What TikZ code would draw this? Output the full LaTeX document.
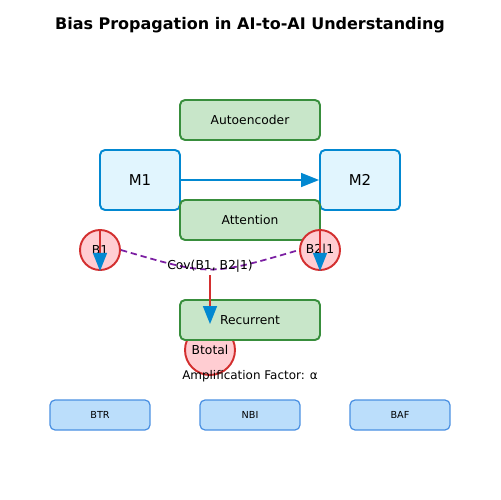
\documentclass[tikz,border=0pt]{standalone}
\usepackage{fontspec}
\setmainfont{DejaVu Sans}
\usetikzlibrary{arrows.meta}
\definecolor{boxgreen}{HTML}{C8E6C9}
\definecolor{linegreen}{HTML}{388E3C}
\definecolor{boxblue}{HTML}{E1F5FE}
\definecolor{lineblue}{HTML}{0288D1}
\definecolor{boxred}{HTML}{FFCDD2}
\definecolor{linered}{HTML}{D32F2F}
\definecolor{linepurple}{HTML}{7B1FA2}
\definecolor{metricfill}{HTML}{BBDEFB}
\definecolor{metricline}{HTML}{4A90E2}
\begin{document}
\begin{tikzpicture}[x=0.02cm,y=-0.02cm,font=\fontsize{7}{8}\selectfont,
    layer/.style={draw=linegreen,fill=boxgreen,line width=1.1pt,rounded corners=0.1cm,
      minimum width=2.8cm,minimum height=0.8cm,inner sep=0pt},
    model/.style={draw=lineblue,fill=boxblue,line width=1.1pt,rounded corners=0.1cm,
      minimum width=1.6cm,minimum height=1.2cm,inner sep=0pt,font=\fontsize{8.5}{10}\selectfont},
    bias/.style={circle,draw=linered,fill=boxred,line width=1.1pt,minimum size=0.8cm,inner sep=0pt},
    metric/.style={draw=metricline,fill=metricfill,line width=0.7pt,rounded corners=0.1cm,
      minimum width=2cm,minimum height=0.6cm,inner sep=0pt,font=\fontsize{5.5}{6}\selectfont},
    flow/.style={linered,line width=0.85pt,-{Triangle[length=0.36cm,width=0.28cm,color=lineblue]}}]
  \useasboundingbox (0,0) rectangle (500,500);
  \node[font=\bfseries\fontsize{9.1}{11}\selectfont] (title) at (250,25) {Bias Propagation in AI-to-AI Understanding};
  \node[layer] (auto) at (250,120) {Autoencoder};
  \node[model] (m1) at (140,180) {M1};
  \node[model] (m2) at (360,180) {M2};
  \draw[lineblue,line width=0.85pt,-{Triangle[length=0.36cm,width=0.28cm]}] (m1.east) -- (m2.west);
  \node[layer] (att) at (250,220) {Attention};
  \node[bias] (b1) at (100,250) {B1};
  \node[bias] (b2) at (320,250) {B2|1};
  \draw[linepurple,line width=1pt,dash pattern=on 3.6pt off 2.2pt] (b1.east) .. controls (210,276) .. (b2.west);
  \draw[flow] (b1.north) -- (b1.south);
  \draw[flow] (b2.north) -- (b2.south);
  \node (cov) at (210,266) {Cov(B1, B2|1)};
  \node[bias,minimum size=1cm] (btot) at (210,350) {Btotal};
  \node[layer] (rec) at (250,320) {Recurrent};
  \coordinate (c1) at (210,275);
  \draw[flow] (c1) -- (btot.north);
  \node[font=\fontsize{6.8}{8}\selectfont] (amp) at (250,376) {Amplification Factor: α};
  \foreach \name [count=\i] in {BTR,NBI,BAF}
    \node[metric] (m-\name) at (-50+150*\i,415) {\name};
\end{tikzpicture}
\end{document}
